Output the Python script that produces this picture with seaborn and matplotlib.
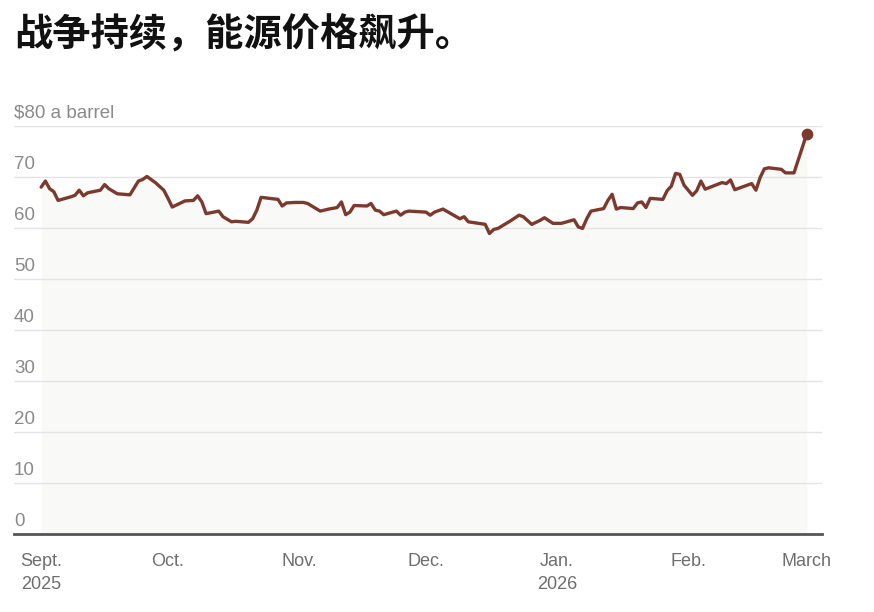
import matplotlib
matplotlib.use("Agg")
import matplotlib.pyplot as plt
import matplotlib.transforms as mtransforms
import seaborn as sns
import pandas as pd

# Oil price, dollars a barrel
dates = [
    "2025-09-01", "2025-09-02", "2025-09-03", "2025-09-04", "2025-09-05",
    "2025-09-08", "2025-09-09", "2025-09-10", "2025-09-11", "2025-09-12",
    "2025-09-15", "2025-09-16", "2025-09-17", "2025-09-19", "2025-09-22",
    "2025-09-24", "2025-09-25", "2025-09-26", "2025-09-28", "2025-09-30",
    "2025-10-01", "2025-10-02", "2025-10-05", "2025-10-07", "2025-10-08",
    "2025-10-09", "2025-10-10", "2025-10-13", "2025-10-14", "2025-10-16",
    "2025-10-17", "2025-10-20", "2025-10-21", "2025-10-22", "2025-10-23",
    "2025-10-25", "2025-10-27", "2025-10-28", "2025-10-29", "2025-10-31",
    "2025-11-02", "2025-11-03", "2025-11-06", "2025-11-08", "2025-11-10",
    "2025-11-11", "2025-11-12", "2025-11-13", "2025-11-14", "2025-11-17",
    "2025-11-18", "2025-11-19", "2025-11-20", "2025-11-21", "2025-11-24",
    "2025-11-25", "2025-11-26", "2025-11-27", "2025-12-01", "2025-12-02",
    "2025-12-03", "2025-12-05", "2025-12-09", "2025-12-10", "2025-12-11",
    "2025-12-15", "2025-12-16", "2025-12-17", "2025-12-18", "2025-12-21",
    "2025-12-23", "2025-12-24", "2025-12-26", "2025-12-28", "2025-12-29",
    "2025-12-31", "2026-01-02", "2026-01-05", "2026-01-06", "2026-01-07",
    "2026-01-08", "2026-01-09", "2026-01-12", "2026-01-13", "2026-01-14",
    "2026-01-15", "2026-01-16", "2026-01-19", "2026-01-20", "2026-01-21",
    "2026-01-22", "2026-01-23", "2026-01-26", "2026-01-27", "2026-01-28",
    "2026-01-29", "2026-01-30", "2026-01-31", "2026-02-02", "2026-02-03",
    "2026-02-04", "2026-02-05", "2026-02-09", "2026-02-10", "2026-02-11",
    "2026-02-12", "2026-02-16", "2026-02-17", "2026-02-18", "2026-02-19",
    "2026-02-20", "2026-02-23", "2026-02-24", "2026-02-26", "2026-03-01",
]
prices = [
    68.0, 69.2, 67.7, 67.1, 65.4,
    66.1, 66.4, 67.4, 66.3, 66.9,
    67.4, 68.5, 67.7, 66.7, 66.5,
    69.2, 69.5, 70.1, 68.9, 67.4,
    65.8, 64.1, 65.3, 65.4, 66.3,
    65.1, 62.8, 63.3, 62.2, 61.2,
    61.3, 61.1, 61.8, 63.5, 66.0,
    65.8, 65.6, 64.3, 64.9, 65.0,
    65.0, 64.8, 63.3, 63.7, 64.0,
    65.1, 62.6, 63.1, 64.4, 64.3,
    64.8, 63.5, 63.3, 62.6, 63.3,
    62.5, 63.1, 63.3, 63.1, 62.5,
    63.1, 63.7, 61.8, 62.2, 61.2,
    60.7, 58.9, 59.7, 59.9, 61.4,
    62.5, 62.2, 60.7, 61.5, 62.0,
    60.9, 60.9, 61.6, 60.2, 59.9,
    61.8, 63.3, 63.8, 65.4, 66.6,
    63.7, 64.0, 63.8, 64.9, 65.1,
    64.0, 65.8, 65.6, 67.3, 68.2,
    70.7, 70.5, 68.4, 66.4, 67.3,
    69.2, 67.6, 68.9, 68.7, 69.4,
    67.5, 68.7, 67.4, 69.9, 71.6,
    71.8, 71.5, 70.8, 70.8, 78.4,
]

y_ticks = [0, 10, 20, 30, 40, 50, 60, 70, 80]
y_labels = ["0", "10", "20", "30", "40", "50", "60", "70", "$80 a barrel"]
x_ticks = ["2025-09-01", "2025-10-01", "2025-11-01", "2025-12-01",
           "2026-01-01", "2026-02-01", "2026-03-01"]
x_labels = ["Sept.\n2025", "Oct.", "Nov.", "Dec.", "Jan.\n2026", "Feb.", "March"]

df = pd.DataFrame({"date": pd.to_datetime(dates), "price": prices})

line_color = "#7b3a2d"
label_color = "#8a8a8a"

sns.set_style("white")
plt.rcParams["font.family"] = ["Liberation Sans", "DejaVu Sans"]

fig = plt.figure(figsize=(8.74, 6.12), dpi=100)
ax = fig.add_axes([14 / 874, 1 - 533.7 / 612, 808 / 874, 407.7 / 612])

# light fill under the line
ax.fill_between(df["date"], 0, df["price"], color="#f9f9f7", lw=0, zorder=0)

# gridlines
for v in y_ticks[1:]:
    ax.axhline(v, color="#e4e4e4", lw=1, zorder=1)

sns.lineplot(data=df, x="date", y="price", color=line_color, lw=2.4, ax=ax, zorder=3)
last = df.iloc[-1]
ax.scatter([last["date"]], [last["price"]], s=55, color=line_color, zorder=4)

ax.set_ylim(0, 80)
ax.set_xlim(pd.Timestamp("2025-08-25 14:00"), pd.Timestamp("2026-03-04 15:00"))

# y labels sitting above their gridlines
trans = mtransforms.blended_transform_factory(ax.transAxes, ax.transData)
offset = mtransforms.ScaledTranslation(0, 3 / 72, fig.dpi_scale_trans)
for v, lab in zip(y_ticks, y_labels):
    ax.text(0, v, lab, transform=trans + offset, ha="left", va="bottom",
            fontsize=13.5, color=label_color)
ax.set_yticks([])

ax.set_xticks(pd.to_datetime(x_ticks))
ax.set_xticklabels(x_labels, fontsize=13, color="#6e6e6e", ha="center",
                   linespacing=1.45)
ax.tick_params(axis="x", length=7, width=1.2, color="#555555", pad=7)
ax.set_xlabel("")
ax.set_ylabel("")

for side in ["top", "right", "left"]:
    ax.spines[side].set_visible(False)
ax.spines["bottom"].set_color("#555555")
ax.spines["bottom"].set_linewidth(2)
ax.spines["bottom"].set_zorder(5)

fig.text(14 / 874, 1 - 16 / 612, "战争持续，能源价格飙升。", ha="left", va="top",
         fontsize=27.5, fontweight="bold", color="#111111",
         family=["Noto Sans CJK SC", "DejaVu Sans"])

fig.savefig("out.png", dpi=100, facecolor="white")
